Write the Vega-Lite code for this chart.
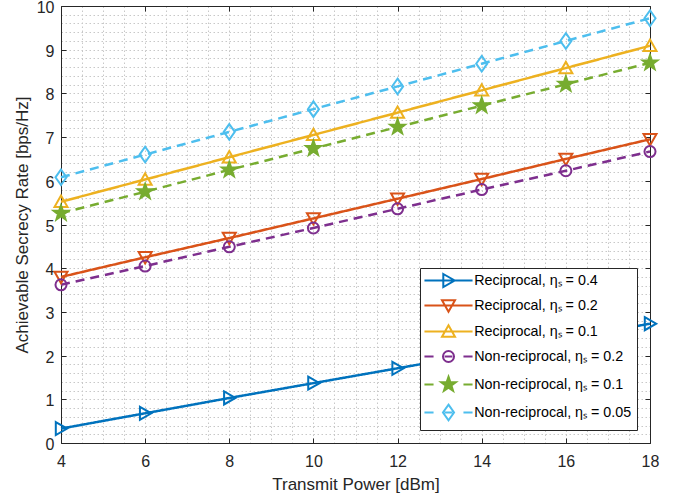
{
  "$schema": "https://vega.github.io/schema/vega-lite/v6.json",
  "width": 589,
  "height": 437,
  "autosize": {"type": "none"},
  "padding": {"left": 61, "top": 6, "right": 33, "bottom": 57},
  "background": "white",
  "config": {
    "view": {"stroke": null},
    "font": "Liberation Sans",
    "axis": {
      "domainColor": "#262626",
      "domainWidth": 1,
      "tickColor": "#262626",
      "tickWidth": 1,
      "labelColor": "#262626",
      "labelFont": "Liberation Sans",
      "labelFontSize": 16,
      "titleFont": "Liberation Sans",
      "titleFontSize": 17,
      "titleFontWeight": "normal",
      "titleColor": "#262626"
    },
    "legend": {
      "title": null,
      "orient": "bottom-right",
      "offset": 13,
      "fillColor": "white",
      "strokeColor": "#262626",
      "padding": 5,
      "rowPadding": 5,
      "labelFont": "Liberation Sans",
      "labelFontSize": 14.3,
      "labelColor": "black",
      "labelLimit": 400,
      "symbolSize": 169,
      "symbolOffset": 16,
      "labelOffset": 18.2,
      "symbolStrokeWidth": 2,
      "symbolOpacity": 1
    }
  },
  "data": {
    "values": [
      {"s": "Reciprocal, ηₛ = 0.4", "x": 4, "y": 0.33},
      {"s": "Reciprocal, ηₛ = 0.4", "x": 6, "y": 0.68},
      {"s": "Reciprocal, ηₛ = 0.4", "x": 8, "y": 1.03},
      {"s": "Reciprocal, ηₛ = 0.4", "x": 10, "y": 1.37},
      {"s": "Reciprocal, ηₛ = 0.4", "x": 12, "y": 1.71},
      {"s": "Reciprocal, ηₛ = 0.4", "x": 14, "y": 2.05},
      {"s": "Reciprocal, ηₛ = 0.4", "x": 16, "y": 2.39},
      {"s": "Reciprocal, ηₛ = 0.4", "x": 18, "y": 2.73},
      {"s": "Reciprocal, ηₛ = 0.2", "x": 4, "y": 3.80},
      {"s": "Reciprocal, ηₛ = 0.2", "x": 6, "y": 4.25},
      {"s": "Reciprocal, ηₛ = 0.2", "x": 8, "y": 4.69},
      {"s": "Reciprocal, ηₛ = 0.2", "x": 10, "y": 5.14},
      {"s": "Reciprocal, ηₛ = 0.2", "x": 12, "y": 5.59},
      {"s": "Reciprocal, ηₛ = 0.2", "x": 14, "y": 6.04},
      {"s": "Reciprocal, ηₛ = 0.2", "x": 16, "y": 6.50},
      {"s": "Reciprocal, ηₛ = 0.2", "x": 18, "y": 6.95},
      {"s": "Reciprocal, ηₛ = 0.1", "x": 4, "y": 5.52},
      {"s": "Reciprocal, ηₛ = 0.1", "x": 6, "y": 6.03},
      {"s": "Reciprocal, ηₛ = 0.1", "x": 8, "y": 6.54},
      {"s": "Reciprocal, ηₛ = 0.1", "x": 10, "y": 7.05},
      {"s": "Reciprocal, ηₛ = 0.1", "x": 12, "y": 7.56},
      {"s": "Reciprocal, ηₛ = 0.1", "x": 14, "y": 8.07},
      {"s": "Reciprocal, ηₛ = 0.1", "x": 16, "y": 8.58},
      {"s": "Reciprocal, ηₛ = 0.1", "x": 18, "y": 9.09},
      {"s": "Non-reciprocal, ηₛ = 0.2", "x": 4, "y": 3.62},
      {"s": "Non-reciprocal, ηₛ = 0.2", "x": 6, "y": 4.05},
      {"s": "Non-reciprocal, ηₛ = 0.2", "x": 8, "y": 4.49},
      {"s": "Non-reciprocal, ηₛ = 0.2", "x": 10, "y": 4.92},
      {"s": "Non-reciprocal, ηₛ = 0.2", "x": 12, "y": 5.36},
      {"s": "Non-reciprocal, ηₛ = 0.2", "x": 14, "y": 5.80},
      {"s": "Non-reciprocal, ηₛ = 0.2", "x": 16, "y": 6.23},
      {"s": "Non-reciprocal, ηₛ = 0.2", "x": 18, "y": 6.67},
      {"s": "Non-reciprocal, ηₛ = 0.1", "x": 4, "y": 5.26},
      {"s": "Non-reciprocal, ηₛ = 0.1", "x": 6, "y": 5.75},
      {"s": "Non-reciprocal, ηₛ = 0.1", "x": 8, "y": 6.25},
      {"s": "Non-reciprocal, ηₛ = 0.1", "x": 10, "y": 6.74},
      {"s": "Non-reciprocal, ηₛ = 0.1", "x": 12, "y": 7.23},
      {"s": "Non-reciprocal, ηₛ = 0.1", "x": 14, "y": 7.72},
      {"s": "Non-reciprocal, ηₛ = 0.1", "x": 16, "y": 8.21},
      {"s": "Non-reciprocal, ηₛ = 0.1", "x": 18, "y": 8.70},
      {"s": "Non-reciprocal, ηₛ = 0.05", "x": 4, "y": 6.08},
      {"s": "Non-reciprocal, ηₛ = 0.05", "x": 6, "y": 6.60},
      {"s": "Non-reciprocal, ηₛ = 0.05", "x": 8, "y": 7.12},
      {"s": "Non-reciprocal, ηₛ = 0.05", "x": 10, "y": 7.64},
      {"s": "Non-reciprocal, ηₛ = 0.05", "x": 12, "y": 8.16},
      {"s": "Non-reciprocal, ηₛ = 0.05", "x": 14, "y": 8.68},
      {"s": "Non-reciprocal, ηₛ = 0.05", "x": 16, "y": 9.20},
      {"s": "Non-reciprocal, ηₛ = 0.05", "x": 18, "y": 9.72}
    ]
  },
  "layer": [
    {
      "mark": {"type": "line", "strokeWidth": 2.5},
      "encoding": {
        "x": {
          "field": "x", "type": "quantitative",
          "scale": {"domain": [4, 18], "nice": false, "zero": false},
          "axis": {
            "title": "Transmit Power [dBm]",
            "values": [4,4.5,5,5.5,6,6.5,7,7.5,8,8.5,9,9.5,10,10.5,11,11.5,12,12.5,13,13.5,14,14.5,15,15.5,16,16.5,17,17.5,18],
            "grid": true,
            "gridColor": "#c8c8c8",
            "gridDash": [1.5, 2.5],
            "gridWidth": 1,
            "tickSize": -5,
            "tickOpacity": {"condition": {"test": "datum.value % 2 === 0", "value": 1}, "value": 0},
            "labelExpr": "datum.value % 2 === 0 ? format(datum.value, 'd') : ''",
            "labelOverlap": false,
            "labelFlush": false,
            "labelPadding": 15,
            "titlePadding": 7
          }
        },
        "y": {
          "field": "y", "type": "quantitative",
          "scale": {"domain": [0, 10], "nice": false},
          "axis": {
            "title": "Achievable Secrecy Rate [bps/Hz]",
            "values": [0,0.2,0.4,0.6,0.8,1,1.2,1.4,1.6,1.8,2,2.2,2.4,2.6,2.8,3,3.2,3.4,3.6,3.8,4,4.2,4.4,4.6,4.8,5,5.2,5.4,5.6,5.8,6,6.2,6.4,6.6,6.8,7,7.2,7.4,7.6,7.8,8,8.2,8.4,8.6,8.8,9,9.2,9.4,9.6,9.8,10],
            "grid": true,
            "gridColor": "#c8c8c8",
            "gridDash": [1.5, 2.5],
            "gridWidth": 1,
            "tickSize": -5,
            "tickOpacity": {"condition": {"test": "abs(datum.value - round(datum.value)) < 0.001", "value": 1}, "value": 0},
            "labelExpr": "abs(datum.value - round(datum.value)) < 0.001 ? format(round(datum.value), 'd') : ''",
            "labelOverlap": false,
            "labelOffset": 1.5,
            "labelPadding": 12,
            "titlePadding": 5
          }
        },
        "color": {
          "field": "s", "type": "nominal",
          "scale": {
            "domain": ["Reciprocal, ηₛ = 0.4", "Reciprocal, ηₛ = 0.2", "Reciprocal, ηₛ = 0.1", "Non-reciprocal, ηₛ = 0.2", "Non-reciprocal, ηₛ = 0.1", "Non-reciprocal, ηₛ = 0.05"],
            "range": ["#0072BD", "#D95319", "#EDB120", "#7E2F8E", "#77AC30", "#4DBEEE"]
          },
          "legend": null
        },
        "strokeDash": {
          "field": "s", "type": "nominal",
          "scale": {
            "domain": ["Reciprocal, ηₛ = 0.4", "Reciprocal, ηₛ = 0.2", "Reciprocal, ηₛ = 0.1", "Non-reciprocal, ηₛ = 0.2", "Non-reciprocal, ηₛ = 0.1", "Non-reciprocal, ηₛ = 0.05"],
            "range": [[1, 0], [1, 0], [1, 0], [9, 6], [9, 6], [9, 6]]
          },
          "legend": null
        }
      }
    },
    {
      "mark": {"type": "point", "size": 169, "strokeWidth": 2, "opacity": 1, "filled": false},
      "encoding": {
        "x": {
          "field": "x", "type": "quantitative",
          "axis": {"orient": "top", "values": [4,6,8,10,12,14,16,18], "labels": false, "title": null, "grid": false, "tickSize": -5}
        },
        "y": {
          "field": "y", "type": "quantitative",
          "axis": {"orient": "right", "values": [0,1,2,3,4,5,6,7,8,9,10], "labels": false, "title": null, "grid": false, "tickSize": -5}
        },
        "color": {
          "field": "s", "type": "nominal",
          "scale": {
            "domain": ["Reciprocal, ηₛ = 0.4", "Reciprocal, ηₛ = 0.2", "Reciprocal, ηₛ = 0.1", "Non-reciprocal, ηₛ = 0.2", "Non-reciprocal, ηₛ = 0.1", "Non-reciprocal, ηₛ = 0.05"],
            "range": ["#0072BD", "#D95319", "#EDB120", "#7E2F8E", "#77AC30", "#4DBEEE"]
          },
          "legend": null
        },
        "shape": {
          "field": "s", "type": "nominal",
          "scale": {
            "domain": ["Reciprocal, ηₛ = 0.4", "Reciprocal, ηₛ = 0.2", "Reciprocal, ηₛ = 0.1", "Non-reciprocal, ηₛ = 0.2", "Non-reciprocal, ηₛ = 0.1", "Non-reciprocal, ηₛ = 0.05"],
            "range": ["M-0.8,-1L0.95,0L-0.8,1Z", "M-1,-0.8L1,-0.8L0,0.95Z", "M-1,0.8L1,0.8L0,-0.95Z", "M0.85,0A0.85,0.85,0,1,1,-0.85,0A0.85,0.85,0,1,1,0.85,0Z", "M0,-1.2L0.282,-0.388L1.141,-0.371L0.457,0.148L0.705,0.971L0,0.48L-0.705,0.971L-0.457,0.148L-1.141,-0.371L-0.282,-0.388Z", "M0,-1.2L0.85,0L0,1.2L-0.85,0Z"]
          },
          "legend": null
        },
        "fill": {
          "field": "s", "type": "nominal",
          "scale": {
            "domain": ["Reciprocal, ηₛ = 0.4", "Reciprocal, ηₛ = 0.2", "Reciprocal, ηₛ = 0.1", "Non-reciprocal, ηₛ = 0.2", "Non-reciprocal, ηₛ = 0.1", "Non-reciprocal, ηₛ = 0.05"],
            "range": ["transparent", "transparent", "transparent", "transparent", "#77AC30", "transparent"]
          },
          "legend": null
        }
      }
    },
    {
      "transform": [{"filter": "false"}],
      "mark": {"type": "point", "size": 169, "strokeWidth": 2, "filled": false},
      "encoding": {
        "x": {"field": "x", "type": "quantitative", "axis": null},
        "y": {"field": "y", "type": "quantitative", "axis": null},
        "color": {
          "field": "s", "type": "nominal",
          "scale": {
            "domain": ["Reciprocal, ηₛ = 0.4", "Reciprocal, ηₛ = 0.2", "Reciprocal, ηₛ = 0.1", "Non-reciprocal, ηₛ = 0.2", "Non-reciprocal, ηₛ = 0.1", "Non-reciprocal, ηₛ = 0.05"],
            "range": ["#0072BD", "#D95319", "#EDB120", "#7E2F8E", "#77AC30", "#4DBEEE"]
          },
          "legend": {"title": null}
        },
        "shape": {
          "field": "s", "type": "nominal",
          "scale": {
            "domain": ["Reciprocal, ηₛ = 0.4", "Reciprocal, ηₛ = 0.2", "Reciprocal, ηₛ = 0.1", "Non-reciprocal, ηₛ = 0.2", "Non-reciprocal, ηₛ = 0.1", "Non-reciprocal, ηₛ = 0.05"],
            "range": [
              "M-3.7,0H3.7M-0.8,-1L0.95,0L-0.8,1Z",
              "M-3.7,0H3.7M-1,-0.8L1,-0.8L0,0.95Z",
              "M-3.7,0H3.7M-1,0.8L1,0.8L0,-0.95Z",
              "M-3.7,0H-2.3M-0.6,0H0.6M2.3,0H3.7M0.85,0A0.85,0.85,0,1,1,-0.85,0A0.85,0.85,0,1,1,0.85,0Z",
              "M-3.7,0H-2.3M2.3,0H3.7M0,-1.2L0.282,-0.388L1.141,-0.371L0.457,0.148L0.705,0.971L0,0.48L-0.705,0.971L-0.457,0.148L-1.141,-0.371L-0.282,-0.388ZM0,-0.72L0.169,-0.233L0.685,-0.223L0.274,0.089L0.423,0.583L0,0.288L-0.423,0.583L-0.274,0.089L-0.685,-0.223L-0.169,-0.233ZM0,-0.36L0.085,-0.116L0.342,-0.111L0.137,0.044L0.212,0.291L0,0.144L-0.212,0.291L-0.137,0.044L-0.342,-0.111L-0.085,-0.116Z",
              "M-3.7,0H-2.3M-0.6,0H0.6M2.3,0H3.7M0,-1.2L0.85,0L0,1.2L-0.85,0Z"
            ]
          },
          "legend": {"title": null}
        }
      }
    }
  ],
  "resolve": {
    "axis": {"x": "independent", "y": "independent"},
    "scale": {"shape": "independent", "color": "independent"}
  }
}
